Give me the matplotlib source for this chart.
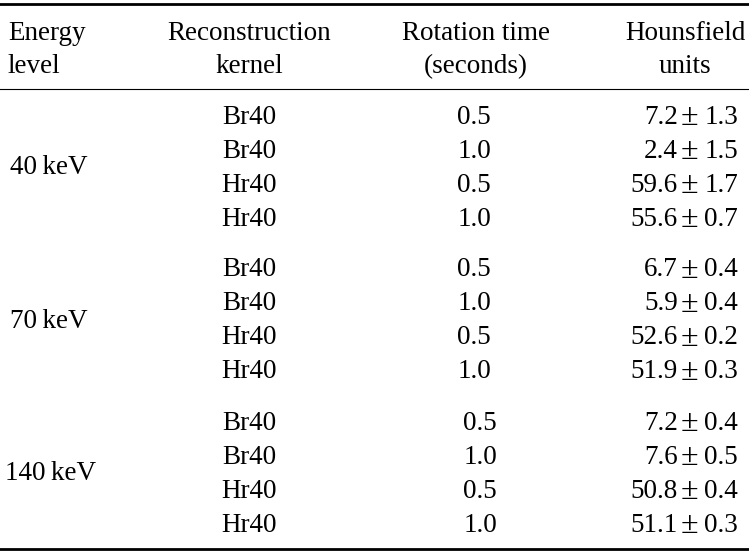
import matplotlib
matplotlib.use('Agg')
import matplotlib.pyplot as plt

energy_levels = ['40\u2009keV', '70\u2009keV', '140\u2009keV']
kernels = ['Br40', 'Br40', 'Hr40', 'Hr40']
rotation_times = ['0.5', '1.0', '0.5', '1.0']
hu_mean = [[7.2, 2.4, 59.6, 55.6],
           [6.7, 5.9, 52.6, 51.9],
           [7.2, 7.6, 50.8, 51.1]]
hu_sd = [[1.3, 1.5, 1.7, 0.7],
         [0.4, 0.4, 0.2, 0.3],
         [0.4, 0.5, 0.4, 0.3]]
headers = ['Energy\nlevel', 'Reconstruction\nkernel', 'Rotation time\n(seconds)', 'Hounsfield\nunits']

plt.rcParams['font.family'] = ['Liberation Serif', 'DejaVu Serif']
FS = 19.5

fig = plt.figure(figsize=(7.49, 5.56), dpi=100)
ax = fig.add_axes([0, 0, 1, 1])
ax.set_xlim(0, 749)
ax.set_ylim(556, 0)
ax.axis('off')

# rules
ax.plot([0, 749], [4, 4], color='k', lw=2.0)
ax.plot([0, 749], [89, 89], color='k', lw=0.8)
ax.plot([0, 749], [549, 549], color='k', lw=2.0)

# header
hdr_x = [8, 249, 476, 685]
hdr_ha = ['left', 'center', 'center', 'center']
for h, x, ha in zip(headers, hdr_x, hdr_ha):
    ax.text(x, 50, h, ha=ha, va='center', fontsize=FS, linespacing=1.45)

# body
row_h = 34
group_top = [117, 270, 423]
rot_x = [474, 474, 480]
for g, e in enumerate(energy_levels):
    y0 = group_top[g]
    ax.text(5 if g == 2 else 10, y0 + 1.5 * row_h, e, ha='left', va='center', fontsize=FS)
    for i in range(4):
        y = y0 + i * row_h
        ax.text(249, y, kernels[i], ha='center', va='center', fontsize=FS)
        ax.text(rot_x[g], y, rotation_times[i], ha='center', va='center', fontsize=FS)
        # mean, plus-minus sign, sd as separate pieces
        ax.text(678, y, '%.1f' % hu_mean[g][i], ha='right', va='center', fontsize=FS)
        ax.text(689, y + 0.5, '\u00b1', ha='center', va='center', fontsize=23)
        ax.text(738, y, '%.1f' % hu_sd[g][i], ha='right', va='center', fontsize=FS)

fig.savefig('out.png', dpi=100)
